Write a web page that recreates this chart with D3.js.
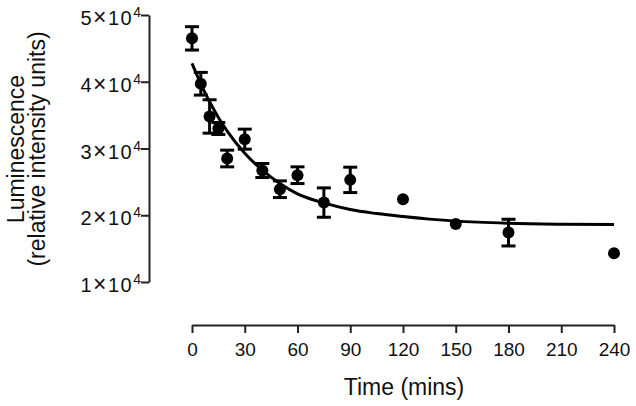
<!DOCTYPE html>
<html>
<head>
<meta charset="utf-8">
<script src="https://cdn.jsdelivr.net/npm/d3@7"></script>
<style>
  html, body { margin: 0; padding: 0; background: #fff; }
  svg { display: block; font-family: "Liberation Sans", Arial, sans-serif; }
</style>
</head>
<body>
<svg id="chart" width="636" height="406"></svg>
<script>
// ---- data ----
const times      = [0, 5, 10, 15, 20, 30, 40, 50, 60, 75, 90, 120, 150, 180, 240];
const meanValues = [46500, 39700, 34800, 33000, 28500, 31400, 26700, 23900, 26000, 21900, 25300, 22400, 18700, 17400, 14300];
const errValues  = [1750, 1700, 2500, 900, 1250, 1500, 1050, 1250, 1250, 2200, 1900, 0, 0, 2000, 0];
const fitTimes   = [0, 5, 10, 15, 20, 30, 40, 50, 60, 75, 90, 105, 120, 135, 150, 180, 210, 240];
const fitValues  = [42760, 39700, 37000, 34650, 32600, 29300, 26750, 24750, 23200, 21850, 20850, 20250, 19800, 19420, 19120, 18800, 18660, 18600];
const xTicks     = [0, 30, 60, 90, 120, 150, 180, 210, 240];
const yTickMant  = ["1", "2", "3", "4", "5"];
const yTicks     = [10000, 20000, 30000, 40000, 50000];
const xTitle     = "Time (mins)";
const yTitle1    = "Luminescence";
const yTitle2    = "(relative intensity units)";

const svg = d3.select("#chart");
const x = d3.scaleLinear().domain([0, 240]).range([192, 614]);
const y = d3.scaleLinear().domain([10000, 50000]).range([282, 15]);
const axisColor = "#222";
const fontFam = "Liberation Sans, Arial, sans-serif";

// ---- x axis ----
const xAxisG = svg.append("g").attr("transform", "translate(0,325)")
  .call(d3.axisBottom(x).tickValues(xTicks).tickSize(8).tickPadding(10).tickSizeOuter(0));
xAxisG.select(".domain").attr("stroke", axisColor).attr("stroke-width", 2);
xAxisG.selectAll(".tick line").attr("stroke", axisColor).attr("stroke-width", 2);
xAxisG.selectAll(".tick text").attr("font-size", 19).attr("fill", "#111").attr("font-family", fontFam);

// ---- y axis ----
const yAxisG = svg.append("g").attr("transform", "translate(149,0)")
  .call(d3.axisLeft(y).tickValues(yTicks).tickSize(8).tickSizeOuter(0).tickFormat(""));
yAxisG.select(".domain").attr("stroke", axisColor).attr("stroke-width", 2);
yAxisG.selectAll(".tick line").attr("stroke", axisColor).attr("stroke-width", 2);
yAxisG.selectAll(".tick").each(function(d, i) {
  const t = d3.select(this).append("text")
    .attr("x", -8).attr("y", 9.5)
    .attr("text-anchor", "end")
    .attr("font-size", 20).attr("fill", "#111").attr("font-family", fontFam);
  t.append("tspan").attr("letter-spacing", "1.5").text(yTickMant[i]);
  t.append("tspan").attr("font-size", 23).attr("letter-spacing", "1.5").text("×");
  t.append("tspan").attr("letter-spacing", "1.5").text("10");
  t.append("tspan").attr("font-size", 14).attr("dy", -8).text("4");
});

// ---- titles ----
svg.append("text").attr("x", 404).attr("y", 395).attr("text-anchor", "middle")
  .attr("font-size", 23).attr("fill", "#111").text(xTitle);
svg.append("text").attr("transform", "translate(24,149) rotate(-90)")
  .attr("text-anchor", "middle").attr("font-size", 23).attr("fill", "#111").text(yTitle1);
svg.append("text").attr("transform", "translate(45,149) rotate(-90)")
  .attr("text-anchor", "middle").attr("font-size", 23).attr("fill", "#111").text(yTitle2);

// ---- fit curve ----
const fitData = fitTimes.map((t, i) => [t, fitValues[i]]);
svg.append("path").datum(fitData)
  .attr("fill", "none").attr("stroke", "#000").attr("stroke-width", 3)
  .attr("d", d3.line().x(d => x(d[0])).y(d => y(d[1])).curve(d3.curveMonotoneX));

// ---- points with error bars ----
const pts = times.map((t, i) => ({ t, v: meanValues[i], e: errValues[i] }));
const eb = svg.append("g").attr("stroke", "#000").attr("stroke-width", 3);
pts.filter(d => d.e > 0).forEach(d => {
  eb.append("line").attr("x1", x(d.t)).attr("x2", x(d.t)).attr("y1", y(d.v + d.e)).attr("y2", y(d.v - d.e));
  eb.append("line").attr("x1", x(d.t) - 7).attr("x2", x(d.t) + 7).attr("y1", y(d.v + d.e)).attr("y2", y(d.v + d.e));
  eb.append("line").attr("x1", x(d.t) - 7).attr("x2", x(d.t) + 7).attr("y1", y(d.v - d.e)).attr("y2", y(d.v - d.e));
});
svg.append("g").selectAll("circle").data(pts).join("circle")
  .attr("cx", d => x(d.t)).attr("cy", d => y(d.v)).attr("r", 6).attr("fill", "#000");
</script>
</body>
</html>
